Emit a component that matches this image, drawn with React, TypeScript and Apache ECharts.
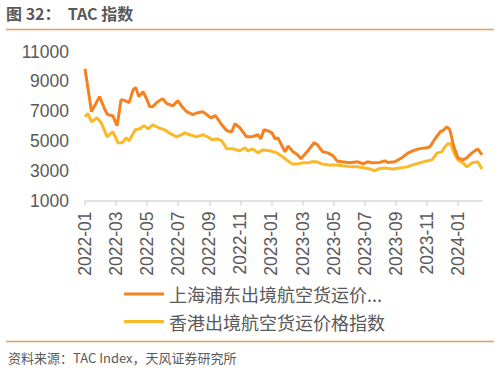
import React, { useEffect, useRef } from "react";
import * as echarts from "echarts";

const titleText = "图 32：  TAC 指数";
const sourceText = "资料来源：TAC Index，天风证券研究所";
const seriesNames = ["上海浦东出境航空货运价...", "香港出境航空货运价格指数"];
const yTicks = [1000, 3000, 5000, 7000, 9000, 11000];
const xTickMonths = [0, 2, 4, 6, 8, 10, 12, 14, 16, 18, 20, 22, 24];

const shDates = [
  "2022-01-01", "2022-01-14", "2022-01-30", "2022-02-09", "2022-02-14", "2022-02-23", "2022-03-03",
  "2022-03-11", "2022-03-19", "2022-03-27", "2022-04-04", "2022-04-09", "2022-04-15", "2022-04-23",
  "2022-04-30", "2022-05-06", "2022-05-12", "2022-05-20", "2022-06-01", "2022-06-09", "2022-06-21",
  "2022-06-30", "2022-07-10", "2022-07-18", "2022-07-30", "2022-08-09", "2022-08-19", "2022-09-04",
  "2022-09-13", "2022-09-25", "2022-10-05", "2022-10-15", "2022-10-21", "2022-10-31", "2022-11-13",
  "2022-11-23", "2022-12-05", "2022-12-11", "2022-12-17", "2022-12-25", "2023-01-02", "2023-01-08",
  "2023-01-14", "2023-01-28", "2023-02-03", "2023-02-12", "2023-02-20", "2023-02-26", "2023-03-10",
  "2023-03-24", "2023-03-31", "2023-04-10", "2023-04-20", "2023-04-30", "2023-05-08", "2023-05-18",
  "2023-06-02", "2023-06-18", "2023-06-28", "2023-07-07", "2023-07-17", "2023-07-31", "2023-08-10",
  "2023-08-16", "2023-08-30", "2023-09-13", "2023-09-25", "2023-10-04", "2023-10-16", "2023-11-01",
  "2023-11-07", "2023-11-17", "2023-11-27", "2023-12-02", "2023-12-10", "2023-12-16", "2023-12-24",
  "2024-01-01", "2024-01-11", "2024-01-19", "2024-01-29", "2024-02-09", "2024-02-17"
];
const shValues = [
  9850, 6970, 7980, 7100, 6770, 6700, 6030,
  7780, 7710, 7580, 8450, 8590, 7980, 8320,
  7840, 7310, 7300, 7580, 7840, 7510, 7370,
  7710, 7250, 6970, 6770, 6900, 6970, 6560,
  6700, 6090, 5690, 5620, 6160, 5890, 5280,
  5280, 5420, 5150, 5750, 5690, 5550, 5150,
  5210, 4270, 4670, 4270, 4070, 3800, 4270,
  4880, 4740, 4270, 4200, 4000, 3660, 3600,
  3530, 3600, 3460, 3600, 3530, 3560, 3660,
  3560, 3600, 3870, 4200, 4340, 4470, 4540,
  4610, 5150, 5620, 5690, 5960, 5750, 4610,
  3870, 3730, 3870, 4200, 4470, 4070
];

const hkDates = [
  "2022-01-01", "2022-01-07", "2022-01-14", "2022-01-25", "2022-02-02", "2022-02-13", "2022-02-23",
  "2022-03-05", "2022-03-13", "2022-03-21", "2022-03-27", "2022-04-08", "2022-04-17", "2022-04-25",
  "2022-05-03", "2022-05-12", "2022-05-24", "2022-06-05", "2022-06-13", "2022-06-28", "2022-07-08",
  "2022-07-14", "2022-07-24", "2022-08-07", "2022-08-19", "2022-08-29", "2022-09-06", "2022-09-17",
  "2022-09-25", "2022-10-05", "2022-10-17", "2022-10-31", "2022-11-10", "2022-11-15", "2022-11-25",
  "2022-12-05", "2022-12-15", "2022-12-29", "2023-01-12", "2023-01-24", "2023-01-28", "2023-02-10",
  "2023-02-20", "2023-03-02", "2023-03-12", "2023-03-20", "2023-03-30", "2023-04-08", "2023-04-20",
  "2023-05-08", "2023-05-19", "2023-06-06", "2023-06-18", "2023-07-01", "2023-07-11", "2023-07-21",
  "2023-07-27", "2023-08-10", "2023-08-26", "2023-09-09", "2023-09-23", "2023-10-04", "2023-10-18",
  "2023-11-01", "2023-11-11", "2023-11-21", "2023-11-30", "2023-12-06", "2023-12-12", "2023-12-18",
  "2023-12-24", "2024-01-01", "2024-01-11", "2024-01-19", "2024-01-29", "2024-02-09", "2024-02-17"
];
const hkValues = [
  6630, 6840, 6290, 6560, 6230, 5280, 5620,
  4880, 4880, 5210, 5010, 5750, 5820, 6030,
  5820, 6090, 5890, 5750, 5550, 5280, 5420,
  5550, 5420, 5280, 5420, 5280, 5080, 5150,
  5010, 4470, 4470, 4340, 4540, 4340, 4470,
  4200, 4400, 4340, 4200, 3930, 3800, 3460,
  3460, 3530, 3530, 3600, 3600, 3460, 3390,
  3390, 3330, 3260, 3260, 3190, 3120, 2990,
  3120, 3190, 3120, 3190, 3260, 3390, 3530,
  3660, 3730, 4200, 4270, 4610, 4810, 4810,
  4200, 3730, 3530, 3260, 3530, 3600, 3120
];

const START_YEAR = 2022;
const toMonth = (s: string) => {
  const [y, m, d] = s.split("-").map(Number);
  const dim = new Date(y, m, 0).getDate();
  return (y - START_YEAR) * 12 + (m - 1) + (d - 1) / dim;
};
const monthLabel = (v: number) => {
  const r = Math.round(v);
  const y = START_YEAR + Math.floor(r / 12);
  const m = (r % 12) + 1;
  return `${y}-${String(m).padStart(2, "0")}`;
};

const ORANGE = "#F5821F";
const YELLOW = "#FBB827";
const GREY = "#595959";
const CJK = "'Noto Sans CJK SC', 'Liberation Sans', sans-serif";
const LAT = "'Liberation Sans', Arial, sans-serif";

export default function App() {
  const ref = useRef<HTMLDivElement>(null);
  useEffect(() => {
    if (!ref.current) return;
    const chart = echarts.init(ref.current, undefined, { renderer: "svg" });
    const shData = shDates.map((d, i) => [toMonth(d), shValues[i]]);
    const hkData = hkDates.map((d, i) => [toMonth(d), hkValues[i]]);
    const xMax = Math.max(toMonth(shDates[shDates.length - 1]), toMonth(hkDates[hkDates.length - 1]));
    chart.setOption({
      animation: false,
      backgroundColor: "#ffffff",
      grid: { left: 85, right: 17, top: 51.7, bottom: 170.5, containLabel: false },
      xAxis: {
        type: "value",
        min: 0,
        max: xMax,
        interval: 2,
        axisLine: { show: true, lineStyle: { color: "#D9D9D9", width: 1.5 } },
        axisTick: { show: true, length: 5, customValues: xTickMonths, lineStyle: { color: "#D9D9D9", width: 1.5 } },
        splitLine: { show: false },
        axisLabel: {
          customValues: xTickMonths,
          rotate: 90,
          margin: 11,
          color: GREY,
          fontSize: 17.5,
          fontFamily: LAT,
          formatter: (v: number) => monthLabel(v),
        },
      },
      yAxis: {
        type: "value",
        min: yTicks[0],
        max: yTicks[yTicks.length - 1],
        interval: 2000,
        axisLine: { show: false },
        axisTick: { show: false },
        splitLine: { show: false },
        axisLabel: {
          color: GREY,
          fontSize: 17.5,
          fontFamily: LAT,
          margin: 16,
          formatter: (v: number) => String(v),
        },
      },
      legend: {
        orient: "vertical",
        left: 124,
        top: 284,
        padding: 0,
        itemWidth: 40,
        itemHeight: 3,
        itemGap: 7.5,
        icon: "rect",
        textStyle: { color: GREY, fontSize: 18, fontFamily: CJK, lineHeight: 20 },
        data: seriesNames,
      },
      series: [
        {
          name: seriesNames[0],
          type: "line",
          data: shData,
          showSymbol: false,
          symbol: "none",
          lineStyle: { color: ORANGE, width: 3 },
          itemStyle: { color: ORANGE },
          z: 3,
        },
        {
          name: seriesNames[1],
          type: "line",
          data: hkData,
          showSymbol: false,
          symbol: "none",
          lineStyle: { color: YELLOW, width: 3 },
          itemStyle: { color: YELLOW },
          z: 2,
        },
      ],
      graphic: [
        {
          type: "text",
          left: 6,
          top: 5,
          style: { text: titleText, fill: GREY, font: `bold 16px ${CJK}` },
        },
        {
          type: "line",
          shape: { x1: 6, y1: 29.5, x2: 494, y2: 29.5 },
          style: { stroke: "#F39C4F", lineWidth: 1.5 },
        },
        {
          type: "line",
          shape: { x1: 6, y1: 341.5, x2: 494, y2: 341.5 },
          style: { stroke: "#F39C4F", lineWidth: 1.5 },
        },
        {
          type: "text",
          left: 8,
          top: 351,
          style: { text: sourceText, fill: GREY, font: `13px ${CJK}` },
        },
      ],
    });
    return () => chart.dispose();
  }, []);
  return (
    <div
      ref={ref}
      style={{ position: "fixed", left: 0, top: 0, width: 499, height: 371, background: "#fff" }}
    />
  );
}
